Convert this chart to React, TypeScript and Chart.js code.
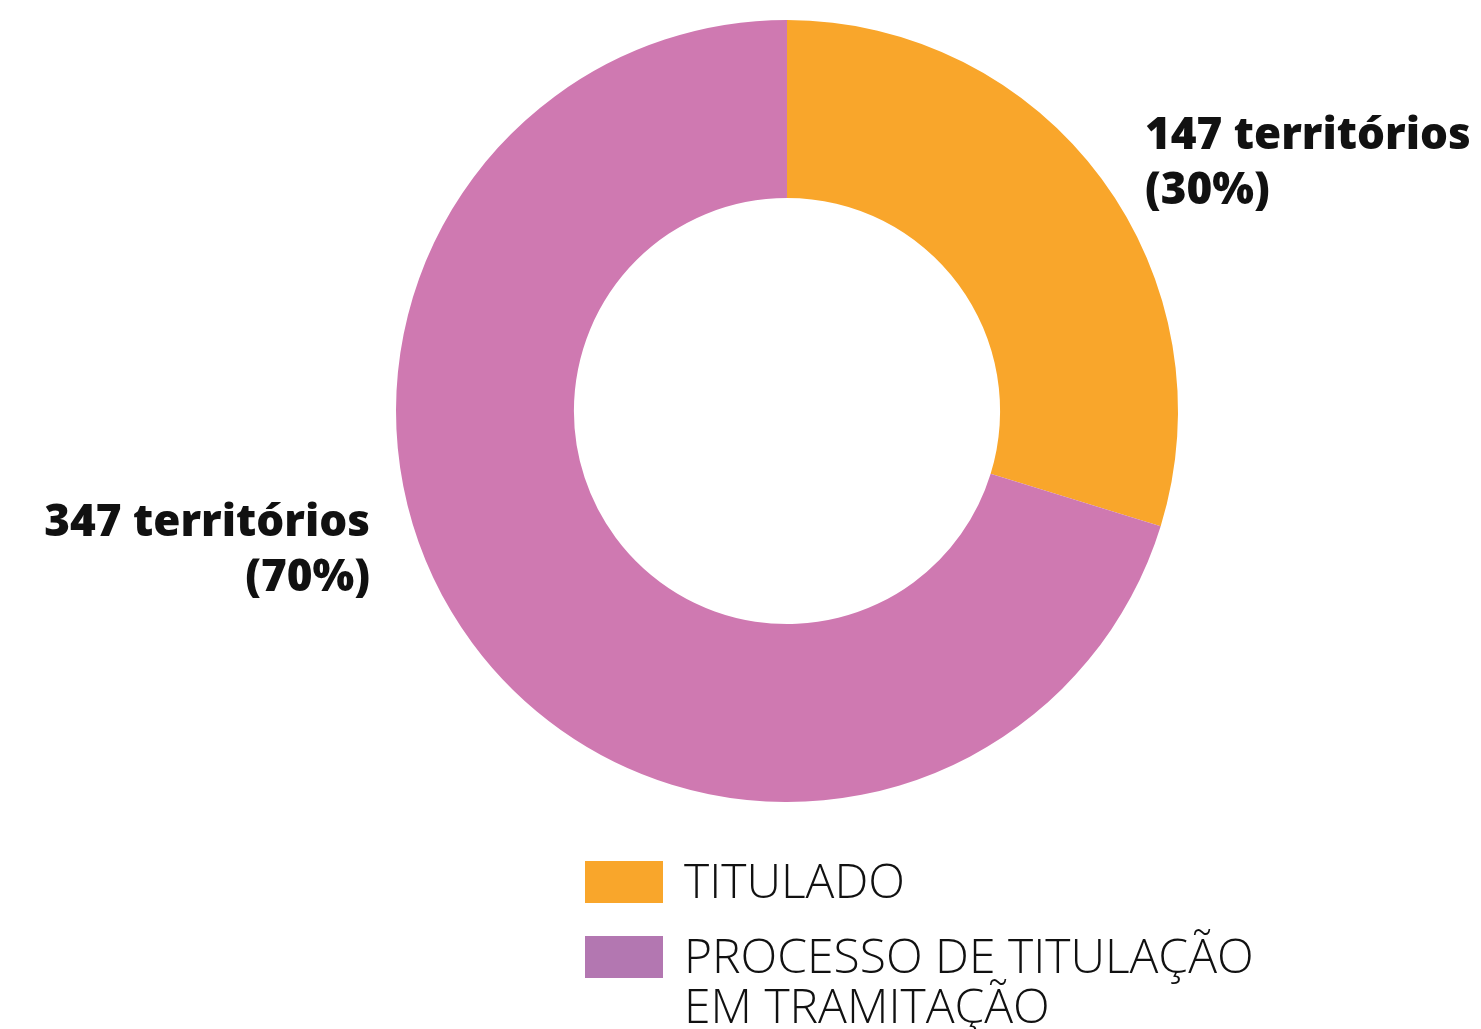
import React, { useEffect, useRef } from "react";
import { Chart, registerables } from "chart.js";

Chart.register(...registerables);

const categories = ["TITULADO", "PROCESSO DE TITULAÇÃO EM TRAMITAÇÃO"];
const legendLines = [["TITULADO"], ["PROCESSO DE TITULAÇÃO", "EM TRAMITAÇÃO"]];
const values = [147, 347];
const sliceColors = ["#F9A62B", "#CF79B1"];
const legendColors = ["#F9A62B", "#B377B1"];
const valueLabels = [
  ["147 territórios", "(30%)"],
  ["347 territórios", "(70%)"],
];

const BOLD = "800 44px 'Open Sans'";
const LIGHT = "300 48px 'Open Sans'";

const labelPlugin = {
  id: "sliceLabels",
  afterDraw(chart: any) {
    const ctx = chart.ctx;
    const meta = chart.getDatasetMeta(0);
    ctx.save();
    ctx.fillStyle = "#111";
    ctx.font = BOLD;
    ctx.textBaseline = "alphabetic";
    const a0: any = meta.data[0];
    const a1: any = meta.data[1];
    if (a0 && a1) {
      const outer = a0.outerRadius;
      ctx.textAlign = "left";
      const x0 = a0.x + outer - 33;
      valueLabels[0].forEach((t, i) => ctx.fillText(t, x0, a0.y - 262 + i * 55));
      ctx.textAlign = "right";
      const x1 = a1.x - outer - 26;
      valueLabels[1].forEach((t, i) => ctx.fillText(t, x1, a1.y + 125 + i * 55));
    }
    // custom legend
    const lx = 585;
    let ly = 861;
    ctx.font = LIGHT;
    ctx.textAlign = "left";
    legendLines.forEach((lines, i) => {
      ctx.fillStyle = legendColors[i];
      ctx.fillRect(lx, ly, 78, 42);
      ctx.fillStyle = "#111";
      lines.forEach((t, j) => ctx.fillText(t, lx + 99, ly + 37 + j * 50));
      ly += 75;
    });
    ctx.restore();
  },
};

export default function App() {
  const ref = useRef<HTMLCanvasElement | null>(null);
  useEffect(() => {
    if (!ref.current) return;
    const chart = new Chart(ref.current, {
      type: "doughnut",
      data: {
        labels: categories,
        datasets: [
          {
            data: values,
            backgroundColor: sliceColors,
            borderWidth: 0,
          },
        ],
      },
      options: {
        responsive: false,
        animation: false,
        cutout: "54.5%",
        layout: { padding: { left: 396, top: 20, right: 303, bottom: 227 } },
        plugins: {
          legend: { display: false },
          tooltip: { enabled: false },
        },
      },
      plugins: [labelPlugin],
    });
    return () => chart.destroy();
  }, []);
  return (
    <div style={{ position: "fixed", left: 0, top: 0, width: 1481, height: 1029, background: "#fff" }}>
      <canvas ref={ref} width={1481} height={1029} style={{ width: 1481, height: 1029 }} />
    </div>
  );
}
